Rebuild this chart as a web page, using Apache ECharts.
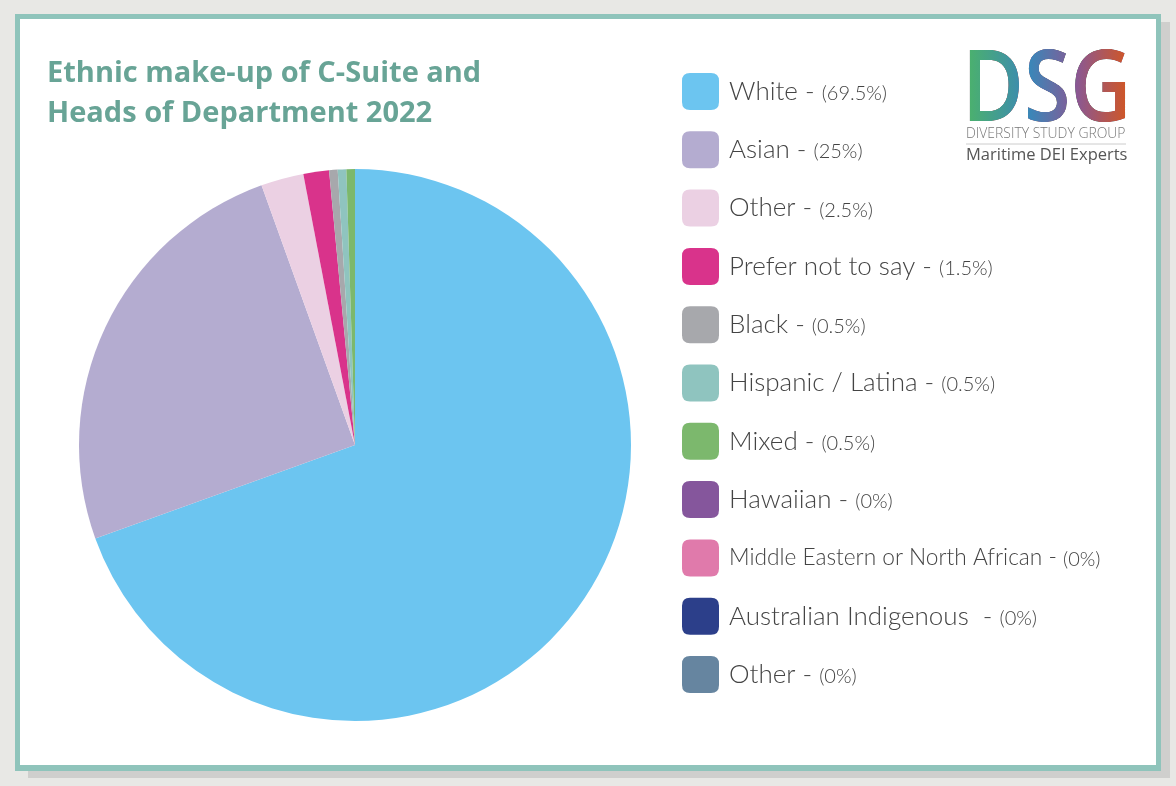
<!DOCTYPE html>
<html><head><meta charset="utf-8">
<script src="https://cdn.jsdelivr.net/npm/echarts@6/dist/echarts.min.js"></script>
<style>html,body{margin:0;padding:0;background:#e8e8e5;}#c{width:1176px;height:786px;}</style>
</head><body><div id="c"></div>
<script>
const categories = ['White','Asian','Other','Prefer not to say','Black','Hispanic / Latina','Mixed','Hawaiian','Middle Eastern or North African','Australian Indigenous ','Other '];
const values = [69.5, 25, 2.5, 1.5, 0.5, 0.5, 0.5, 0, 0, 0, 0];
const colors = ['#6cc5f0','#b4acd0','#ebd0e3','#d9338b','#a7a8ac','#8fc4bf','#7cb86d','#85569c','#e07aab','#2c3f8a','#6685a0'];
const titleText = 'Ethnic make-up of C-Suite and\nHeads of Department 2022';

const chart = echarts.init(document.getElementById('c'), null, {renderer:'canvas'});
const data = categories.map((c,i)=>({name:c, value:values[i], itemStyle:{color:colors[i]}}));
const logoGrad = new echarts.graphic.LinearGradient(0,0,1,0,[
  {offset:0,color:'#4cb468'},{offset:0.4,color:'#3b86b8'},{offset:0.68,color:'#8a5893'},{offset:1,color:'#d4561f'}]);
chart.setOption({
  animation:false,
  backgroundColor:'#e8e8e5',
  graphic:[
    {type:'rect', z:-10, shape:{x:28,y:22,width:1142,height:756}, style:{fill:'#cfcfcd'}},
    {type:'rect', z:-9, shape:{x:15,y:14,width:1146,height:757}, style:{fill:'#8fc4bb'}},
    {type:'rect', z:-8, shape:{x:20,y:19,width:1136,height:746}, style:{fill:'#ffffff'}},
    {type:'text', left:962, top:43, z:5, scaleX:0.88, scaleY:1.04,
      style:{text:'DSG', font:'600 96px "Open Sans"', fill:'#000'}},
    {type:'rect', z:6, shape:{x:964,y:46,width:166,height:76}, style:{fill:logoGrad, blend:'lighten'}},
    {type:'text', left:966, top:126, z:5, scaleX:0.96, style:{text:'DIVERSITY STUDY GROUP', font:'300 14.5px "Open Sans"', fill:'#777'}},
    {type:'line', z:5, shape:{x1:966,y1:144,x2:1126,y2:144}, style:{stroke:'#cccccc', lineWidth:1}},
    {type:'text', left:966, top:147, z:5, style:{text:'Maritime DEI Experts', font:'400 16.5px "Open Sans"', fill:'#555'}}
  ],
  title:{text:titleText, left:47, top:54, padding:0, textStyle:{fontFamily:'Open Sans', fontWeight:700, fontSize:29, lineHeight:40, color:'#68a496'}},
  legend:{
    orient:'vertical', left:682, top:73, padding:0, itemWidth:37, itemHeight:37, itemGap:21.3,
    icon:'path://M8,0 H29 Q37,0 37,8 V29 Q37,37 29,37 H8 Q0,37 0,29 V8 Q0,0 8,0 Z',
    data:categories, selectedMode:false,
    formatter:function(name){
      const i = categories.indexOf(name);
      const key = name.length > 25 ? 'm' : 'n';
      return '{' + key + '|' + name.replace(/ $/,'') + (name==='Australian Indigenous '?'  - ':' - ') + '}{p|(' + values[i] + '%)}';
    },
    textStyle:{rich:{
      n:{fontFamily:'Lato', fontWeight:300, fontSize:26, color:'#444', padding:[0,0,0,5]},
      m:{fontFamily:'Lato', fontWeight:300, fontSize:22.7, color:'#444', padding:[0,0,0,5]},
      p:{fontFamily:'Lato', fontWeight:300, fontSize:20, color:'#444', padding:[4,0,0,0]}
    }}
  },
  series:[{
    type:'pie', center:[355,445], radius:276, startAngle:90, clockwise:true,
    label:{show:false}, labelLine:{show:false}, silent:true,
    itemStyle:{borderWidth:0}, stillShowZeroSum:false,
    data:data
  }]
});
</script></body></html>
